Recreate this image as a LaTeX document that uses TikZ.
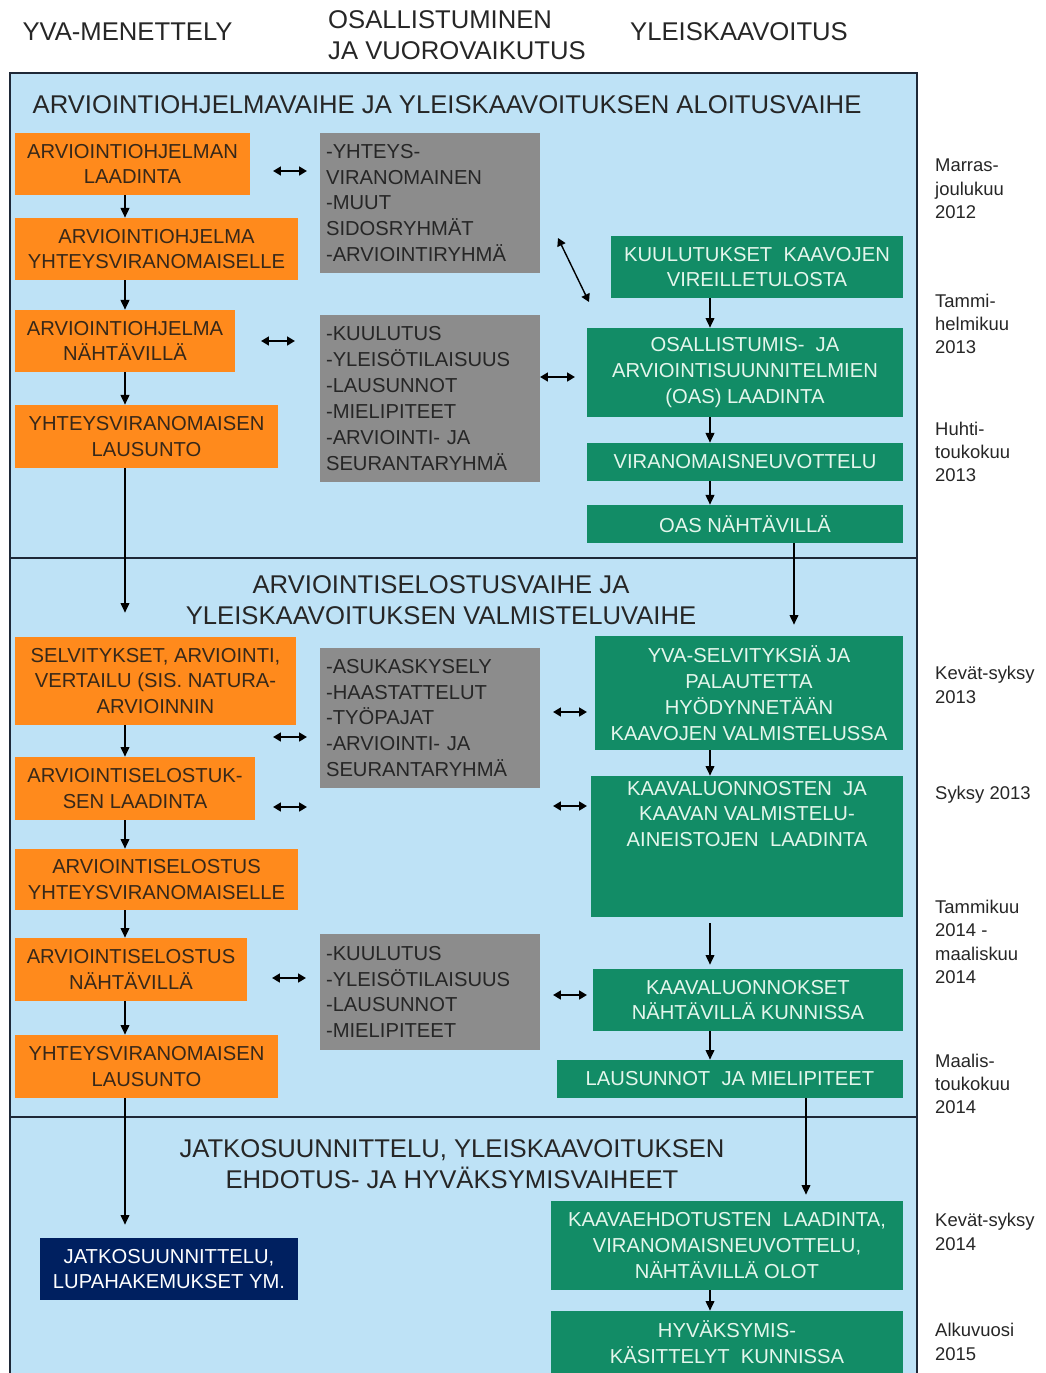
\documentclass[tikz,border=0pt]{standalone}
\usepackage{fontspec}
\setmainfont{Liberation Sans}
\usetikzlibrary{arrows.meta}
\definecolor{yvaorange}{RGB}{255,138,28}
\definecolor{yvatext}{RGB}{55,40,25}
\definecolor{osgray}{RGB}{140,140,140}
\definecolor{kgreen}{RGB}{18,140,102}
\definecolor{ktext}{RGB}{228,246,236}
\definecolor{jnavy}{RGB}{0,32,96}
\definecolor{bgblue}{RGB}{190,226,246}
\definecolor{framec}{RGB}{30,40,55}
\tikzset{
  box/.style={inner sep=0pt, align=center, font=\fontsize{11.5}{14.7}\selectfont},
  ybox/.style={box, fill=yvaorange, text=yvatext},
  vbox/.style={box, fill=osgray, text=black!85, align=left, inner xsep=0.12cm, text width=4.16cm},
  kbox/.style={box, fill=kgreen, text=ktext},
  jbox/.style={box, fill=jnavy, text=white},
  phase/.style={align=center, font=\fontsize{14.6}{17.6}\selectfont, text=black!85},
  head/.style={font=\fontsize{14.6}{17.6}\selectfont, text=black!85},
  date/.style={anchor=west, align=left, font=\fontsize{10.5}{13.3}\selectfont, text=black!85},
  arr/.style={line width=0.8pt, -{Triangle[length=5.5pt,width=5pt]}},
  twoway/.style={line width=1.3pt, {Triangle[length=4.5pt,width=5pt]}-{Triangle[length=4.5pt,width=5pt]}},
}

\begin{document}
\begin{tikzpicture}[x=0.02cm,y=-0.02cm]
\useasboundingbox (0,0) rectangle (1045,1373);
% frame and phases
\fill[bgblue] (10,73) rectangle (917,1380);
\draw[framec, line width=1.2pt] (10,1380) -- (10,73) -- (917,73) -- (917,1380);
\draw[framec, line width=1.2pt] (10,558) -- (917,558);
\draw[framec, line width=1.2pt] (10,1117) -- (917,1117);

\node[head] (H1) at (127.5,32) {YVA-MENETTELY};
\node[head, anchor=west, align=left] (H2) at (322,35) {OSALLISTUMINEN\\JA VUOROVAIKUTUS};
\node[head] (H3) at (739,32) {YLEISKAAVOITUS};

\node[phase] (P1) at (447,105) {ARVIOINTIOHJELMAVAIHE JA YLEISKAAVOITUKSEN ALOITUSVAIHE};
\node[phase] (P2) at (441,600) {ARVIOINTISELOSTUSVAIHE JA\\YLEISKAAVOITUKSEN VALMISTELUVAIHE};
\node[phase] (P3) at (452,1164) {JATKOSUUNNITTELU, YLEISKAAVOITUKSEN\\EHDOTUS- JA HYVÄKSYMISVAIHEET};

% YVA column
\node[ybox, minimum width=4.70cm, minimum height=1.24cm] (Y1) at (132.5,164) {ARVIOINTIOHJELMAN\\LAADINTA};
\node[ybox, minimum width=5.66cm, minimum height=1.24cm] (Y2) at (156.5,249) {ARVIOINTIOHJELMA\\YHTEYSVIRANOMAISELLE};
\node[ybox, minimum width=4.40cm, minimum height=1.24cm] (Y3) at (125,341) {ARVIOINTIOHJELMA\\NÄHTÄVILLÄ};
\node[ybox, minimum width=5.26cm, minimum height=1.26cm] (Y4) at (146.5,436.5) {YHTEYSVIRANOMAISEN\\LAUSUNTO};
\node[ybox, minimum width=5.62cm, minimum height=1.76cm] (Y5) at (155.5,681) {SELVITYKSET, ARVIOINTI,\\VERTAILU (SIS. NATURA-\\ARVIOINNIN};
\node[ybox, minimum width=4.80cm, minimum height=1.26cm] (Y6) at (135,788.5) {ARVIOINTISELOSTUK-\\SEN LAADINTA};
\node[ybox, minimum width=5.66cm, minimum height=1.22cm] (Y7) at (156.5,879.5) {ARVIOINTISELOSTUS\\YHTEYSVIRANOMAISELLE};
\node[ybox, minimum width=4.64cm, minimum height=1.26cm] (Y8) at (131,969.5) {ARVIOINTISELOSTUS\\NÄHTÄVILLÄ};
\node[ybox, minimum width=5.26cm, minimum height=1.26cm] (Y9) at (146.5,1066.5) {YHTEYSVIRANOMAISEN\\LAUSUNTO};
\node[jbox, minimum width=5.16cm, minimum height=1.24cm] (J1) at (169,1269) {JATKOSUUNNITTELU,\\LUPAHAKEMUKSET YM.};

% participation column
\node[vbox, minimum height=2.80cm] (V1) at (430,203) {-YHTEYS-\\VIRANOMAINEN\\-MUUT\\SIDOSRYHMÄT\\-ARVIOINTIRYHMÄ};
\node[vbox, minimum height=3.34cm] (V2) at (430,398.5) {-KUULUTUS\\-YLEISÖTILAISUUS\\-LAUSUNNOT\\-MIELIPITEET\\-ARVIOINTI- JA\\SEURANTARYHMÄ};
\node[vbox, minimum height=2.80cm] (V3) at (430,718) {-ASUKASKYSELY\\-HAASTATTELUT\\-TYÖPAJAT\\-ARVIOINTI- JA\\SEURANTARYHMÄ};
\node[vbox, minimum height=2.32cm] (V4) at (430,992) {-KUULUTUS\\-YLEISÖTILAISUUS\\-LAUSUNNOT\\-MIELIPITEET};

% kaavoitus column
\node[kbox, minimum width=5.84cm, minimum height=1.24cm] (K1) at (757,267) {KUULUTUKSET \ KAAVOJEN\\VIREILLETULOSTA};
\node[kbox, minimum width=6.32cm, minimum height=1.78cm] (K2) at (745,372.5) {OSALLISTUMIS- \ JA\\ARVIOINTISUUNNITELMIEN\\(OAS) LAADINTA};
\node[kbox, minimum width=6.32cm, minimum height=0.76cm] (K3) at (745,462) {VIRANOMAISNEUVOTTELU};
\node[kbox, minimum width=6.32cm, minimum height=0.76cm] (K4) at (745,524) {OAS NÄHTÄVILLÄ};
\node[kbox, minimum width=6.16cm, minimum height=2.28cm] (K5) at (749,693) {YVA-SELVITYKSIÄ JA\\PALAUTETTA\\HYÖDYNNETÄÄN\\KAAVOJEN VALMISTELUSSA};
\node[kbox, minimum width=6.24cm, minimum height=2.82cm] (K6) at (747,846.5) {};
\node[kbox, fill=none, anchor=north] (K6t) at ([yshift=-0.1cm]K6.north) {KAAVALUONNOSTEN \ JA\\KAAVAN VALMISTELU-\\AINEISTOJEN \ LAADINTA};
\node[kbox, minimum width=6.20cm, minimum height=1.24cm] (K7) at (748,1000) {KAAVALUONNOKSET\\NÄHTÄVILLÄ KUNNISSA};
\node[kbox, minimum width=6.92cm, minimum height=0.76cm] (K8) at (730,1079) {LAUSUNNOT \ JA MIELIPITEET};
\node[kbox, minimum width=7.04cm, minimum height=1.78cm] (K9) at (727,1245.5) {KAAVAEHDOTUSTEN \ LAADINTA,\\VIRANOMAISNEUVOTTELU,\\NÄHTÄVILLÄ OLOT};
\node[kbox, minimum width=7.04cm, minimum height=1.26cm] (K10) at (727,1342.5) {HYVÄKSYMIS-\\KÄSITTELYT \ KUNNISSA};

% timing
\node[date] (T1) at (929,189) {Marras-\\joulukuu\\2012};
\node[date] (T2) at (929,324) {Tammi-\\helmikuu\\2013};
\node[date] (T3) at (929,452) {Huhti-\\toukokuu\\2013};
\node[date] (T4) at (929,685) {Kevät-syksy\\2013};
\node[date] (T5) at (929,795) {Syksy 2013};
\node[date] (T6) at (929,942) {Tammikuu\\2014 -\\maaliskuu\\2014};
\node[date] (T7) at (929,1084) {Maalis-\\toukokuu\\2014};
\node[date] (T8) at (929,1232) {Kevät-syksy\\2014};
\node[date] (T9) at (929,1342) {Alkuvuosi\\2015};

% flow arrows
\coordinate (lc) at (125,0);
\coordinate (rc) at (710,0);
\coordinate (rc2) at (794,0);
\coordinate (rc3) at (806,0);
\draw[arr] (Y1.south -| lc) -- (Y2.north -| lc);
\draw[arr] (Y2.south -| lc) -- (Y3.north -| lc);
\draw[arr] (Y3.south -| lc) -- (Y4.north -| lc);
\draw[arr, shorten >=0.48cm] (Y4.south -| lc) -- (Y5.north -| lc);
\draw[arr] (Y5.south -| lc) -- (Y6.north -| lc);
\draw[arr] (Y6.south -| lc) -- (Y7.north -| lc);
\draw[arr] (Y7.south -| lc) -- (Y8.north -| lc);
\draw[arr] (Y8.south -| lc) -- (Y9.north -| lc);
\draw[arr, shorten >=0.26cm] (Y9.south -| lc) -- (J1.north -| lc);
\draw[arr] (K1.south -| rc) -- (K2.north -| rc);
\draw[arr] (K2.south -| rc) -- (K3.north -| rc);
\draw[arr] (K3.south -| rc) -- (K4.north -| rc);
\draw[arr, shorten >=0.22cm] (K4.south -| rc2) -- (K5.north -| rc2);
\draw[arr] (K5.south -| rc) -- (K6.north -| rc);
\draw[arr, shorten <=0.12cm, shorten >=0.08cm] (K6.south -| rc) -- (K7.north -| rc);
\draw[arr] (K7.south -| rc) -- (K8.north -| rc);
\draw[arr, shorten >=0.12cm] (K8.south -| rc3) -- (K9.north -| rc3);
\draw[arr] (K9.south -| rc) -- (K10.north -| rc);

% two-way arrows
\coordinate (w0a) at (558,238);
\coordinate (w0b) at (589,302);
\draw[twoway, line width=0.8pt] (w0a) -- (w0b);
\foreach \n/\xa/\xb/\yy in {1/273/307/171, 2/261/295/341, 3/540/575/377, 4/273/307/737,
  5/553/587/712, 6/273/307/807, 7/553/587/806, 8/272/306/978, 9/553/587/995} {
  \coordinate (w\n a) at (\xa,\yy);
  \coordinate (w\n b) at (\xb,\yy);
  \draw[twoway] (w\n a) -- (w\n b);
}
\end{tikzpicture}
\end{document}
